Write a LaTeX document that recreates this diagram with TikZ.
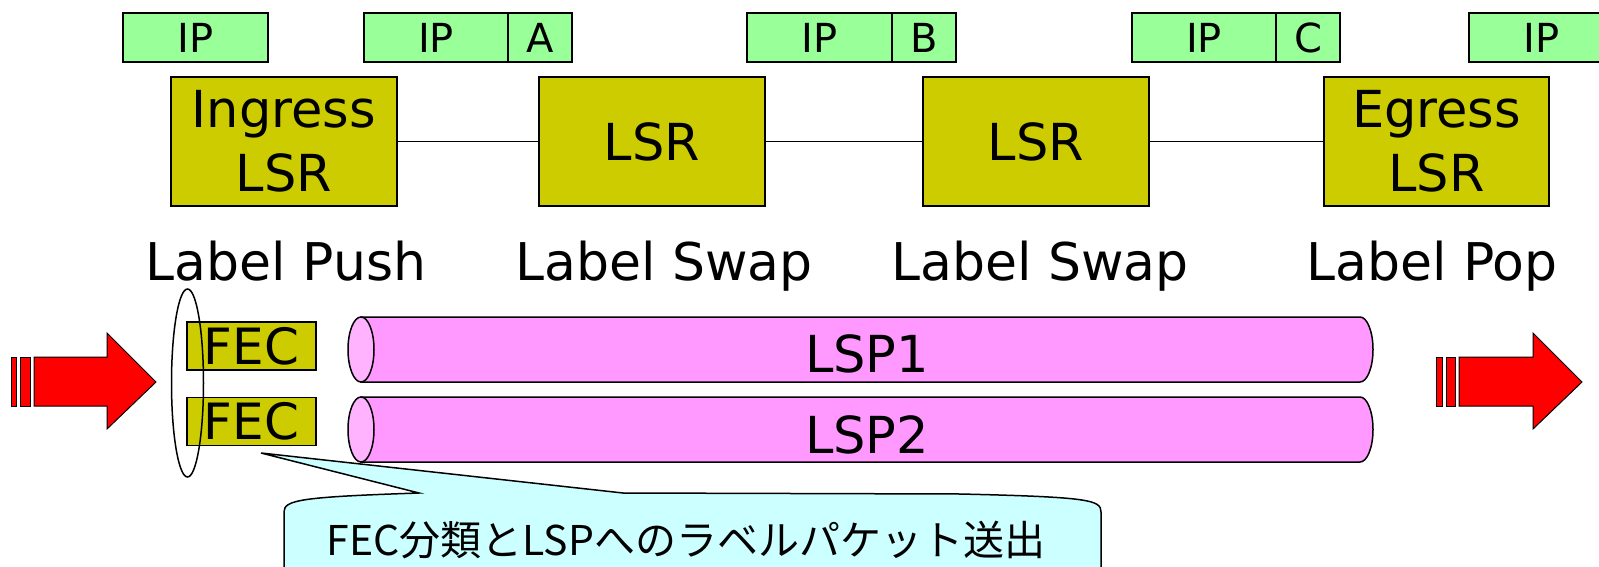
\documentclass[tikz,border=0pt]{standalone}
\usepackage{fontspec}
\setmainfont{DejaVu Sans}
\newfontfamily\jpfont{Noto Sans CJK JP}
\usetikzlibrary{positioning}
\usetikzlibrary{shapes.geometric}

\definecolor{ipgreen}{HTML}{99FF99}
\definecolor{lsrolive}{HTML}{CCCC00}
\definecolor{lsppink}{HTML}{FF99FF}
\definecolor{lspface}{HTML}{FFB3FF}
\definecolor{notecyan}{HTML}{CCFFFF}

\tikzset{
  ipbox/.style = {draw, fill=ipgreen, line width=1.5pt, inner sep=0pt, outer sep=0pt,
                  minimum height=49pt, font=\fontsize{40}{40}\selectfont},
  lsrbox/.style = {draw, fill=lsrolive, line width=1.5pt, inner sep=0pt, align=center,
                   minimum width=226pt, minimum height=129pt, font=\fontsize{51}{64}\selectfont},
  fecbox/.style = {draw, fill=lsrolive, line width=1.5pt, inner sep=0pt,
                   minimum width=129pt, minimum height=48pt, font=\fontsize{50}{50}\selectfont},
  oplabel/.style = {anchor=base, inner sep=0pt, font=\fontsize{52}{60}\selectfont},
  lsptext/.style = {inner sep=0pt, font=\fontsize{51}{51}\selectfont},
}

\begin{document}
\begin{tikzpicture}[x=1pt, y=-1pt]

  \useasboundingbox (0,0) rectangle (1599,567);
  \clip (0,0) rectangle (1599,567);
  \fill[white] (0,0) rectangle (1599,567);

  % draw packets
  \node[ipbox, minimum width=145pt] (ip0) at (195.5,37.5) {IP};
  \node[ipbox, minimum width=144pt] (ipa) at (436,37.5) {IP};
  \node[ipbox, minimum width=64pt, right=0pt of ipa] (lbla) {A};
  \node[ipbox, minimum width=145pt] (ipb) at (819.5,37.5) {IP};
  \node[ipbox, minimum width=64pt, right=0pt of ipb] (lblb) {B};
  \node[ipbox, minimum width=144pt] (ipc) at (1204,37.5) {IP};
  \node[ipbox, minimum width=64pt, right=0pt of ipc] (lblc) {C};
  \node[ipbox, minimum width=145pt] (ipd) at (1541.5,37.5) {IP};

  % draw routers
  \node[lsrbox] (ingress) at (284,141.5) {Ingress\\LSR};
  \node[lsrbox] (lsra) at (652,141.5) {LSR};
  \node[lsrbox] (lsrb) at (1036,141.5) {LSR};
  \node[lsrbox, minimum width=225pt] (egress) at (1436.5,141.5) {Egress\\LSR};

  \draw[line width=1.2pt] (ingress) -- (lsra);
  \draw[line width=1.2pt] (lsra) -- (lsrb);
  \draw[line width=1.2pt] (lsrb) -- (egress);

  % label operations
  \node[oplabel] (push) at (286,280) {Label Push};
  \node[oplabel] (swapa) at (664,280) {Label Swap};
  \node[oplabel] (swapb) at (1040,280) {Label Swap};
  \node[oplabel] (pop) at (1432,280) {Label Pop};

  % draw tunnels
  \filldraw[fill=lsppink, line width=1.5pt] (361,317) -- (1360,317)
    arc[start angle=-90, end angle=90, x radius=13, y radius=32.5] -- (361,382) -- cycle;
  \filldraw[fill=lspface, line width=1.5pt] (361,349.5) ellipse [x radius=13, y radius=32.5];
  \filldraw[fill=lsppink, line width=1.5pt] (361,397) -- (1360,397)
    arc[start angle=-90, end angle=90, x radius=13, y radius=32.5] -- (361,462) -- cycle;
  \filldraw[fill=lspface, line width=1.5pt] (361,429.5) ellipse [x radius=13, y radius=32.5];
  \node[lsptext] (lsp1) at (867,354) {LSP1};
  \node[lsptext] (lsp2) at (867,434.5) {LSP2};

  % classify packets
  \node[fecbox] (feca) at (251.5,346) {FEC};
  \node[fecbox] (fecb) at (251.5,421.5) {FEC};
  \node[ellipse, draw, line width=1.5pt, inner sep=0pt, minimum width=32pt, minimum height=188pt] (fecgroup) at (187.5,383) {};

  % draw in and out arrows
  \filldraw[fill=red, line width=1pt] (11,357) rectangle (16.5,406);
  \filldraw[fill=red, line width=1pt] (20,357) rectangle (30,406);
  \filldraw[fill=red, line width=1pt] (34,357) -- (107,357) -- (107,333) -- (156,382)
    -- (107,429) -- (107,406) -- (34,406) -- cycle;
  \filldraw[fill=red, line width=1pt] (1436,357) rectangle (1442,406);
  \filldraw[fill=red, line width=1pt] (1446,357) rectangle (1455,406);
  \filldraw[fill=red, line width=1pt] (1459,357) -- (1533,357) -- (1533,333) -- (1582,382)
    -- (1533,429) -- (1533,406) -- (1459,406) -- cycle;

  % callout
  \coordinate (tip) at (261,453);
  \filldraw[fill=notecyan, line width=1.5pt] (284,580) -- (284,512)
    .. controls (284,500) and (300,497) .. (419,493) -- (tip) -- (623,493)
    -- (960,494) .. controls (1090,497) and (1101,500) .. (1101,512) -- (1101,580) -- cycle;
  \node[anchor=base, inner sep=0pt, font=\jpfont\fontsize{41}{41}\selectfont] (note) at (686,555)
    {FEC分類とLSPへのラベルパケット送出};

\end{tikzpicture}
\end{document}
